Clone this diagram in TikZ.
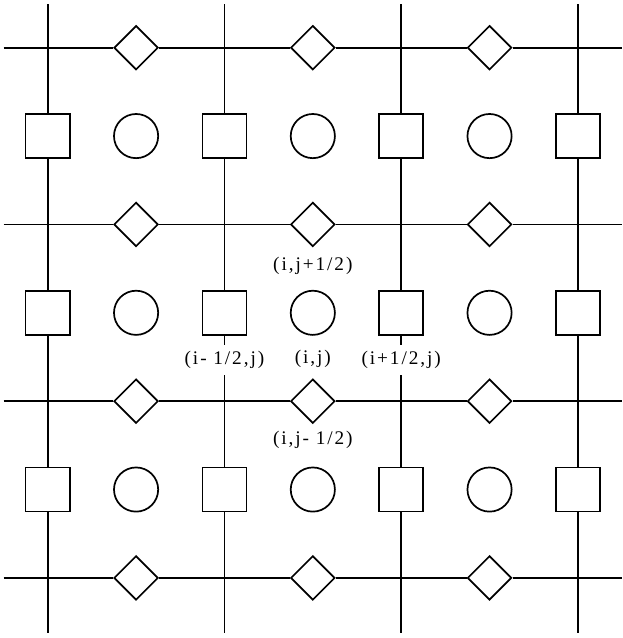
\documentclass[tikz,border=0pt]{standalone}
\usepackage{fontspec}
\setmainfont{Liberation Serif}
\newfontfamily\idxfont[LetterSpace=10]{Liberation Serif}
\usetikzlibrary{positioning,shapes.geometric}
\tikzset{
  gline/.style={line width=1.1pt, black},
  fluxsq/.style={draw, line width=1.1pt, fill=white, rectangle,
                 minimum size=1cm, inner sep=0pt},
  cellc/.style={draw, line width=1.1pt, fill=white, circle,
                minimum size=1cm, inner sep=0pt},
  fluxdm/.style={draw, line width=1.1pt, fill=white, diamond, shape aspect=1,
                 minimum width=1cm, minimum height=1cm, inner sep=0pt},
  idx/.style={fill=white, inner xsep=1pt, inner ysep=4pt,
              font=\idxfont\fontsize{12.4}{14}\selectfont},
}
\begin{document}
\begin{tikzpicture}[x=2cm, y=2cm]
\useasboundingbox (-0.54,-0.68) rectangle (6.5,6.54);

% cell faces (squares) on the vertical lines
\foreach \c in {0,...,3}
  \foreach \r in {0,1,2}
    \node[fluxsq] (sq-\c-\r) at (2*\c, 2*\r+1) {};

% cell centres
\foreach \c in {0,1,2}
  \foreach \r in {0,1,2}
    \node[cellc] (ce-\c-\r) at (2*\c+1, 2*\r+1) {};

% faces (diamonds) on the horizontal lines
\foreach \c in {0,1,2}
  \foreach \r in {0,...,3}
    \node[fluxdm] (dm-\c-\r) at (2*\c+1, 2*\r) {};

% vertical grid lines
\foreach \c in {0,...,3} {
  \coordinate (vt\c) at (2*\c, 6.49);
  \coordinate (vb\c) at (2*\c, -0.62);
  \draw[gline] (vt\c) -- (sq-\c-2) -- (sq-\c-1) -- (sq-\c-0) -- (vb\c);
}

% horizontal grid lines
\foreach \r in {0,...,3} {
  \coordinate (hl\r) at (-0.5, 2*\r);
  \coordinate (hr\r) at (6.5, 2*\r);
  \draw[gline] (hl\r) -- (dm-0-\r) -- (dm-1-\r) -- (dm-2-\r) -- (hr\r);
}

% index labels
\node[idx, below=0.2cm of sq-1-1] (lw) {(i- 1/2,j)};
\node[idx, below=0.18cm of ce-1-1] (lc) {(i,j)};
\node[idx, below=0.2cm of sq-2-1] (le) {(i+1/2,j)};
\node[idx, below=0.07cm of dm-1-2] (ln) {(i,j+1/2)};
\node[idx, below=0.01cm of dm-1-1] (ls) {(i,j- 1/2)};
\end{tikzpicture}
\end{document}
